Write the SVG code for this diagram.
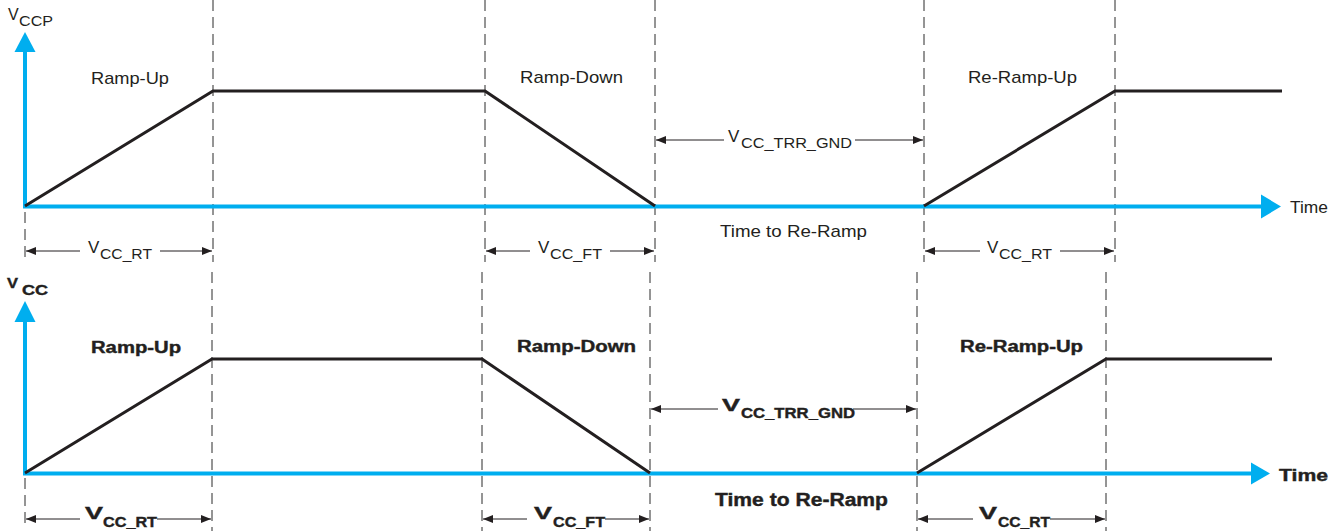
<svg xmlns="http://www.w3.org/2000/svg" width="1344" height="531" viewBox="0 0 1344 531">
<style>
.ax{stroke:#00AEEF;stroke-width:4;fill:none}
.axh{fill:#00AEEF}
.sig{stroke:#231F20;stroke-width:3;fill:none;stroke-linejoin:miter}
.dash{stroke:#2a2a2a;stroke-width:1;stroke-dasharray:11 6;fill:none}
.dim{stroke:#231F20;stroke-width:1;fill:none}
.t{font-family:"Liberation Sans",Arial,sans-serif;fill:#231F20}
.r{font-size:17px}
.b{font-size:16px;font-weight:bold;stroke:#231F20;stroke-width:0.4}
.s{font-size:15px}
.sb{font-size:14px;font-weight:bold;stroke:#231F20;stroke-width:0.4}
</style>
<defs>
<marker id="ah" viewBox="0 0 10 8" refX="10" refY="4" markerWidth="10" markerHeight="8" markerUnits="userSpaceOnUse" orient="auto-start-reverse">
<path d="M0,0 L10,4 L0,8 Z" fill="#231F20"/>
</marker>
</defs>
<rect width="1344" height="531" fill="#ffffff"/>

<g id="guides">
<line class="dash" x1="25" y1="212" x2="25" y2="262"/>
<line class="dash" x1="213" y1="0" x2="213" y2="262"/>
<line class="dash" x1="485" y1="0" x2="485" y2="262"/>
<line class="dash" x1="655" y1="0" x2="655" y2="262"/>
<line class="dash" x1="924" y1="0" x2="924" y2="262"/>
<line class="dash" x1="1115" y1="0" x2="1115" y2="262"/>
<line class="dash" x1="25" y1="478" x2="25" y2="527"/>
<line class="dash" x1="212" y1="272" x2="212" y2="531"/>
<line class="dash" x1="482" y1="272" x2="482" y2="531"/>
<line class="dash" x1="650" y1="272" x2="650" y2="531"/>
<line class="dash" x1="917" y1="272" x2="917" y2="531"/>
<line class="dash" x1="1106" y1="272" x2="1106" y2="531"/>
</g>

<g id="top-axes">
<line class="ax" x1="25" y1="208" x2="25" y2="50"/>
<polygon class="axh" points="25,32 14.5,52 35.5,52"/>
<line class="ax" x1="23" y1="206.5" x2="1263" y2="206.5"/>
<polygon class="axh" points="1281,206.5 1261,194.5 1261,218.5"/>
<text class="t r" x="1290" y="213" textLength="38" lengthAdjust="spacingAndGlyphs">Time</text>
<text class="t" style="font-size:16px" x="8" y="20">V</text>
<text class="t s" x="19" y="26" textLength="34" lengthAdjust="spacingAndGlyphs">CCP</text>
</g>

<g id="top-signal">
<polyline class="sig" points="25,206 213,91 485,91 655,206"/>
<polyline class="sig" points="924,206 1115,91 1282,91"/>
</g>

<g id="top-labels">
<text class="t r" x="91" y="84" textLength="78" lengthAdjust="spacingAndGlyphs">Ramp-Up</text>
<text class="t r" x="520" y="83" textLength="103" lengthAdjust="spacingAndGlyphs">Ramp-Down</text>
<text class="t r" x="968" y="83" textLength="109" lengthAdjust="spacingAndGlyphs">Re-Ramp-Up</text>
<text class="t r" x="720" y="237" textLength="147" lengthAdjust="spacingAndGlyphs">Time to Re-Ramp</text>
</g>

<g id="top-dimensions">
<line class="dim" x1="656" y1="140" x2="724" y2="140" marker-start="url(#ah)"/>
<line class="dim" x1="855" y1="140" x2="923" y2="140" marker-end="url(#ah)"/>
<text class="t r" x="728" y="142">V</text>
<text class="t s" x="741" y="148" textLength="111" lengthAdjust="spacingAndGlyphs">CC_TRR_GND</text>

<line class="dim" x1="26" y1="251" x2="80" y2="251" marker-start="url(#ah)"/>
<line class="dim" x1="160" y1="251" x2="212" y2="251" marker-end="url(#ah)"/>
<text class="t r" x="88" y="253">V</text>
<text class="t s" x="100" y="259" textLength="52" lengthAdjust="spacingAndGlyphs">CC_RT</text>

<line class="dim" x1="486" y1="251" x2="530" y2="251" marker-start="url(#ah)"/>
<line class="dim" x1="610" y1="251" x2="654" y2="251" marker-end="url(#ah)"/>
<text class="t r" x="538" y="253">V</text>
<text class="t s" x="550" y="259" textLength="52" lengthAdjust="spacingAndGlyphs">CC_FT</text>

<line class="dim" x1="925" y1="251" x2="980" y2="251" marker-start="url(#ah)"/>
<line class="dim" x1="1060" y1="251" x2="1114" y2="251" marker-end="url(#ah)"/>
<text class="t r" x="987" y="253">V</text>
<text class="t s" x="999" y="259" textLength="53" lengthAdjust="spacingAndGlyphs">CC_RT</text>
</g>

<g id="bottom-axes">
<line class="ax" x1="25" y1="475" x2="25" y2="318"/>
<polygon class="axh" points="25,301 14.5,322 35.5,322"/>
<line class="ax" x1="23" y1="473.5" x2="1253" y2="473.5"/>
<polygon class="axh" points="1270,473.5 1251,462.5 1251,484.5"/>
<text class="t b" x="1279" y="481" textLength="49" lengthAdjust="spacingAndGlyphs">Time</text>
<text class="t b" style="font-size:15px" x="7" y="288" textLength="11" lengthAdjust="spacingAndGlyphs">V</text>
<text class="t sb" x="22" y="295" textLength="26" lengthAdjust="spacingAndGlyphs">CC</text>
</g>

<g id="bottom-signal">
<polyline class="sig" points="25,473 212,359 482,359 650,473"/>
<polyline class="sig" points="917,473 1106,359 1272,359"/>
</g>

<g id="bottom-labels">
<text class="t b" x="91" y="353" textLength="90" lengthAdjust="spacingAndGlyphs">Ramp-Up</text>
<text class="t b" x="517" y="352" textLength="119" lengthAdjust="spacingAndGlyphs">Ramp-Down</text>
<text class="t b" x="960" y="352" textLength="123" lengthAdjust="spacingAndGlyphs">Re-Ramp-Up</text>
<text class="t b" style="font-size:18px" x="715" y="506" textLength="173" lengthAdjust="spacingAndGlyphs">Time to Re-Ramp</text>
</g>

<g id="bottom-dimensions">
<line class="dim" x1="651" y1="409" x2="718" y2="409" marker-start="url(#ah)"/>
<line class="dim" x1="853" y1="409" x2="916" y2="409" marker-end="url(#ah)"/>
<text class="t b" style="font-size:17px" x="722" y="411" textLength="18" lengthAdjust="spacingAndGlyphs">V</text>
<text class="t sb" x="741" y="418" textLength="114" lengthAdjust="spacingAndGlyphs">CC_TRR_GND</text>

<line class="dim" x1="26" y1="519" x2="80" y2="519" marker-start="url(#ah)"/>
<line class="dim" x1="157" y1="519" x2="211" y2="519" marker-end="url(#ah)"/>
<text class="t b" style="font-size:17px" x="85" y="519" textLength="18" lengthAdjust="spacingAndGlyphs">V</text>
<text class="t sb" x="103" y="527" textLength="54" lengthAdjust="spacingAndGlyphs">CC_RT</text>

<line class="dim" x1="483" y1="519" x2="527" y2="519" marker-start="url(#ah)"/>
<line class="dim" x1="605" y1="519" x2="649" y2="519" marker-end="url(#ah)"/>
<text class="t b" style="font-size:17px" x="534" y="519" textLength="18" lengthAdjust="spacingAndGlyphs">V</text>
<text class="t sb" x="553" y="527" textLength="52" lengthAdjust="spacingAndGlyphs">CC_FT</text>

<line class="dim" x1="918" y1="519" x2="973" y2="519" marker-start="url(#ah)"/>
<line class="dim" x1="1050" y1="519" x2="1105" y2="519" marker-end="url(#ah)"/>
<text class="t b" style="font-size:17px" x="979" y="519" textLength="18" lengthAdjust="spacingAndGlyphs">V</text>
<text class="t sb" x="998" y="527" textLength="52" lengthAdjust="spacingAndGlyphs">CC_RT</text>
</g>
</svg>
